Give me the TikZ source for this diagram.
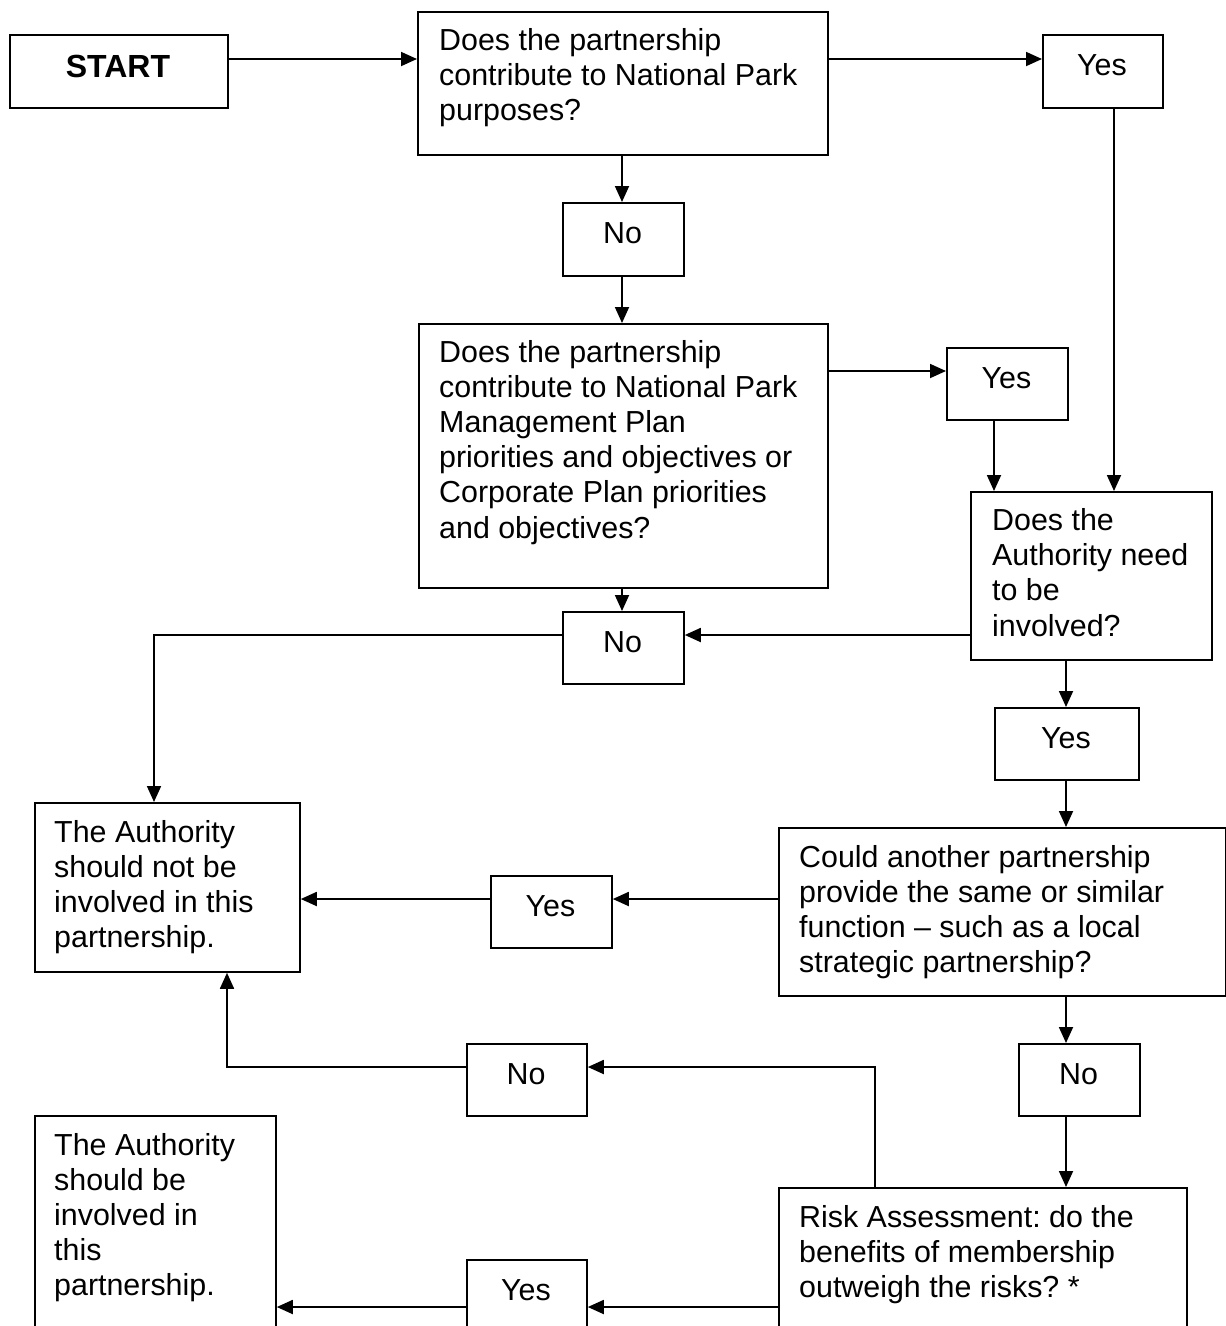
\documentclass[tikz,border=0pt]{standalone}
\usepackage{fontspec}
\setmainfont{Liberation Sans}
\usetikzlibrary{arrows.meta}
\frenchspacing
\newcommand\mlines[1]{\parbox[t]{440pt}{\raggedright\frenchspacing #1}}
\begin{document}
\begin{tikzpicture}[x=1pt,y=-1pt,
  box/.style={draw,line width=1.8pt,rectangle,inner sep=0pt,anchor=north west},
  txt/.style={inner sep=0pt,anchor=base west,font=\fontsize{30.4}{35.2}\selectfont},
  ctxt/.style={inner sep=0pt,anchor=base,font=\fontsize{30.4}{35.2}\selectfont},
  arr/.style={line width=1.8pt,-{Triangle[length=16pt,width=14pt]}},
]
\useasboundingbox (0,0) rectangle (1226,1326);
\fill[white] (0,0) rectangle (1226,1326);
\clip (0,0) rectangle (1226,1326);

% rows and columns of connectors
\coordinate (r1) at (0,59);
\coordinate (r2) at (0,371);
\coordinate (r3) at (0,635);
\coordinate (r4) at (0,899);
\coordinate (r5) at (0,1067);
\coordinate (r6) at (0,1307);
\coordinate (c1) at (622,0);
\coordinate (c2) at (1114,0);
\coordinate (c3) at (994,0);
\coordinate (c4) at (1066,0);
\coordinate (c5) at (154,0);
\coordinate (c6) at (227,0);
\coordinate (c7) at (875,0);

% boxes
\node[box,minimum width=218pt,minimum height=73pt] (start) at (9,34) {};
\node[box,minimum width=410pt,minimum height=143pt] (q1) at (417,11) {};
\node[box,minimum width=120pt,minimum height=73pt] (yes1) at (1042,34) {};
\node[box,minimum width=121pt,minimum height=73pt] (no1) at (562,202) {};
\node[box,minimum width=409pt,minimum height=264pt] (q2) at (418,323) {};
\node[box,minimum width=121pt,minimum height=72pt] (yes2) at (946,347) {};
\node[box,minimum width=241pt,minimum height=168pt] (q3) at (970,491) {};
\node[box,minimum width=121pt,minimum height=72pt] (no2) at (562,611) {};
\node[box,minimum width=144pt,minimum height=72pt] (yes3) at (994,707) {};
\node[box,minimum width=265pt,minimum height=169pt] (notinv) at (34,802) {};
\node[box,minimum width=447pt,minimum height=168pt] (q4) at (778,827) {};
\node[box,minimum width=121pt,minimum height=72pt] (yes4) at (490,875) {};
\node[box,minimum width=121pt,minimum height=72pt] (no3) at (1018,1043) {};
\node[box,minimum width=120pt,minimum height=72pt] (no4) at (466,1043) {};
\node[box,minimum width=241pt,minimum height=300pt] (inv) at (34,1115) {};
\node[box,minimum width=408pt,minimum height=250pt] (risk) at (778,1187) {};
\node[box,minimum width=120pt,minimum height=72pt] (yes5) at (466,1259) {};

% texts
\node[ctxt,font=\fontsize{32}{37}\selectfont\bfseries] (startt) at (118,77) {START};
\node[txt] (q1t) at (439,50.5) {\mlines{Does the partnership\\contribute to National Park\\purposes?}};
\node[ctxt] (yes1t) at (1102,75) {Yes};
\node[ctxt] (no1t) at (622.5,243) {No};
\node[txt] (q2t) at (439,362) {\mlines{Does the partnership\\contribute to National Park\\Management Plan\\priorities and objectives or\\Corporate Plan priorities\\and objectives?}};
\node[ctxt] (yes2t) at (1006.5,388) {Yes};
\node[txt] (q3t) at (992,530.5) {\mlines{Does the\\Authority need\\to be\\involved?}};
\node[ctxt] (no2t) at (622.5,652) {No};
\node[ctxt] (yes3t) at (1066,748) {Yes};
\node[txt] (notinvt) at (54,842) {\mlines{The Authority\\should not be\\involved in this\\partnership.}};
\node[txt] (q4t) at (799,867) {\mlines{Could another partnership\\provide the same or similar\\function – such as a local\\strategic partnership?}};
\node[ctxt] (yes4t) at (550.5,916) {Yes};
\node[ctxt] (no3t) at (1078.5,1084) {No};
\node[ctxt] (no4t) at (526,1084) {No};
\node[txt] (invt) at (54,1155) {\mlines{The Authority\\should be\\involved in\\this\\partnership.}};
\node[txt] (riskt) at (799,1227) {\mlines{Risk Assessment: do the\\benefits of membership\\outweigh the risks? *}};
\node[ctxt] (yes5t) at (526,1300) {Yes};

% connectors
\draw[arr] (start.east |- r1) -- (q1.west |- r1);
\draw[arr] (q1.east |- r1) -- (yes1.west |- r1);
\draw[arr] (q1.south -| c1) -- (no1.north -| c1);
\draw[arr] (no1.south -| c1) -- (q2.north -| c1);
\draw[arr] (yes1.south -| c2) -- (q3.north -| c2);
\draw[arr] (q2.east |- r2) -- (yes2.west |- r2);
\draw[arr] (yes2.south -| c3) -- (q3.north -| c3);
\draw[arr] (q2.south -| c1) -- (no2.north -| c1);
\draw[arr] (q3.west |- r3) -- (no2.east |- r3);
\draw[arr] (no2.west |- r3) -| (notinv.north -| c5);
\draw[arr] (q3.south -| c4) -- (yes3.north -| c4);
\draw[arr] (yes3.south -| c4) -- (q4.north -| c4);
\draw[arr] (q4.west |- r4) -- (yes4.east |- r4);
\draw[arr] (yes4.west |- r4) -- (notinv.east |- r4);
\draw[arr] (q4.south -| c4) -- (no3.north -| c4);
\draw[arr] (no3.south -| c4) -- (risk.north -| c4);
\draw[arr] (risk.north -| c7) |- (no4.east |- r5);
\draw[arr] (no4.west |- r5) -| (notinv.south -| c6);
\draw[arr] (risk.west |- r6) -- (yes5.east |- r6);
\draw[arr] (yes5.west |- r6) -- (inv.east |- r6);
\end{tikzpicture}
\end{document}
